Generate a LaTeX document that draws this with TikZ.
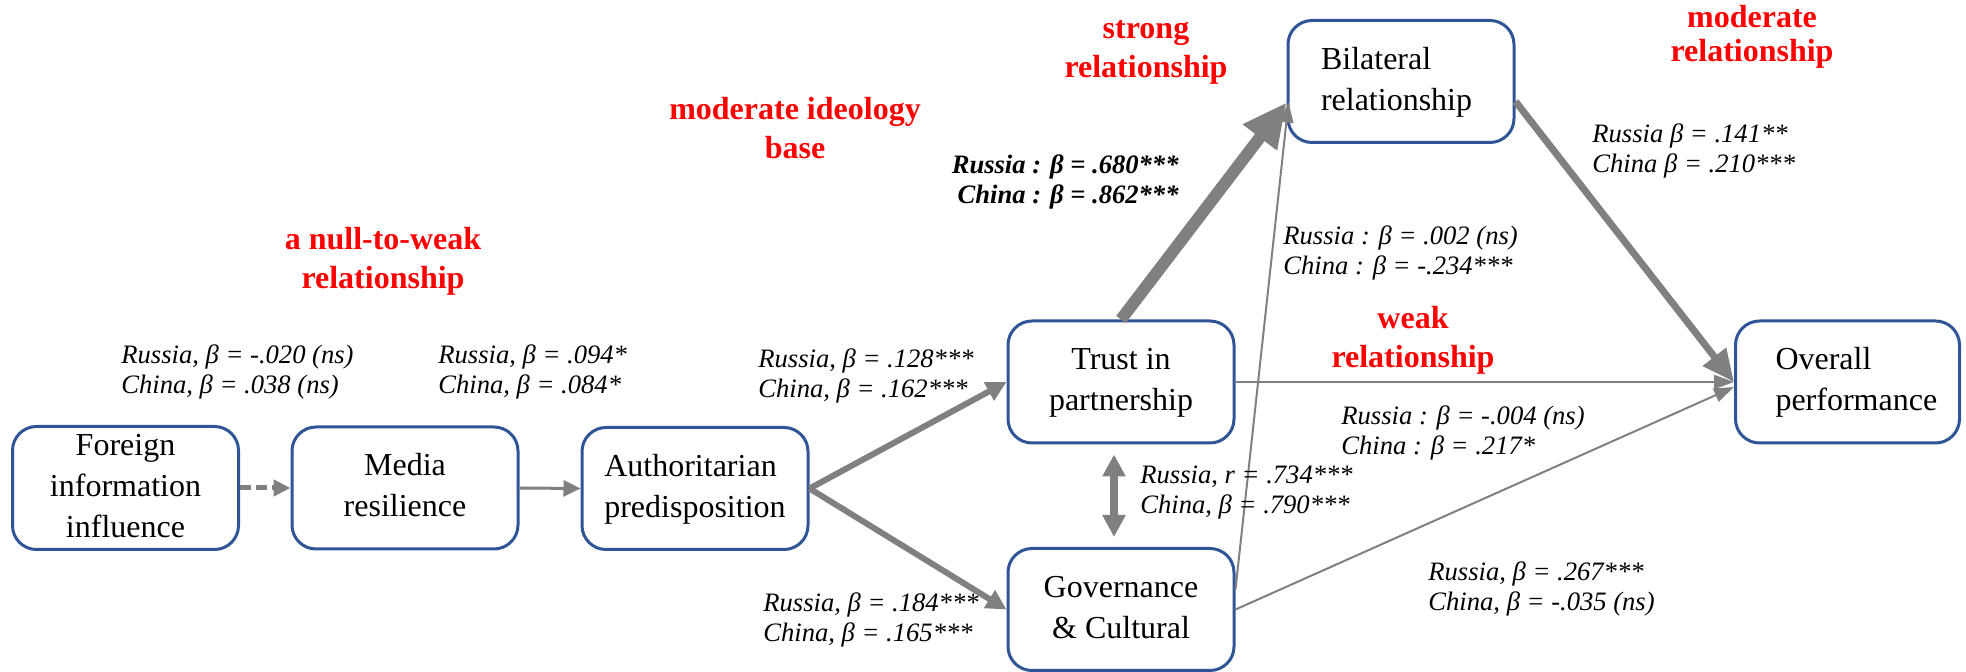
\documentclass[tikz,border=0pt]{standalone}
\usepackage{fontspec}
\setmainfont{Liberation Serif}[BoldFont={Liberation Serif Bold},ItalicFont={Liberation Serif Italic},BoldItalicFont={Liberation Serif Bold Italic}]
\usetikzlibrary{arrows.meta,calc}
\definecolor{boxblue}{HTML}{2F5597}
\definecolor{arrgray}{HTML}{808080}
\definecolor{redlab}{HTML}{FF0000}
\newcommand\boxtext[3]{\raisebox{#2}{\begin{tabular}{@{}#1@{}}#3\end{tabular}}}
\tikzset{
  box/.style={draw=boxblue, line width=1.5pt, rounded corners=12pt, fill=white,
    minimum width=113pt, minimum height=61pt, inner sep=0pt,
    font=\fontsize{16}{20.5}\selectfont},
  lab/.style={font=\fontsize{13.3}{15}\selectfont\itshape, inner sep=0pt, align=left, anchor=west},
  blab/.style={font=\fontsize{13.3}{15}\selectfont\bfseries\itshape, inner sep=0pt, align=right, anchor=east},
  redl/.style={font=\fontsize{16}{19.5}\selectfont\bfseries, text=redlab, align=center, inner sep=0pt},
  thinarr/.style={draw=arrgray, line width=1pt, -{Triangle[length=10pt,width=7pt]}},
  medarr/.style={draw=arrgray, line width=1.5pt, -{Triangle[length=8.5pt,width=8pt]}},
  dasharr/.style={draw=arrgray, line width=2.5pt, dash pattern=on 5.5pt off 2.5pt, -{Triangle[length=8.5pt,width=8pt]}},
  thickarr/.style={draw=arrgray, line width=3pt, -{Triangle[length=10pt,width=10pt]}},
  heavyarr/.style={draw=arrgray, line width=6pt, -{Triangle[length=22pt,width=20pt]}},
  bigarr/.style={draw=arrgray, line width=3.5pt, -{Triangle[length=16pt,width=14pt]}},
  dblarr/.style={draw=arrgray, line width=4pt, {Triangle[length=11pt,width=11pt]}-{Triangle[length=11pt,width=11pt]}},
}
\begin{document}
\begin{tikzpicture}[x=0.5pt,y=-0.5pt]
\useasboundingbox (0,0) rectangle (1966,672);
% boxes
\node[box] (fore) at (125.5,488) {\boxtext{c}{-4.5pt}{Foreign\\information\\influence}};
\node[box] (media) at (405,488) {\boxtext{c}{1pt}{Media\\resilience}};
\node[box] (auth) at (695,488.5) {\boxtext{l}{-3pt}{Authoritarian\\predisposition}};
\node[box] (trust) at (1121,382) {\boxtext{c}{-2.5pt}{Trust in\\partnership}};
\node[box] (gov) at (1121,609.5) {\boxtext{c}{-4.5pt}{Governance\\\& Cultural}};
\node[box, align=left, text width=80pt] (bil) at (1401,81.5) {\boxtext{l}{-2pt}{Bilateral\\relationship}};
\node[box, align=left, text width=72pt, minimum width=112pt] (over) at (1847.5,382) {\boxtext{l}{-1pt}{Overall\\performance}};
% connectors
\draw[dasharr] (fore.east) -- (media.west);
\draw[medarr] (media.east) -- (auth.west);
\draw[thickarr] (auth.east) -- (trust.west);
\draw[thickarr] (auth.east) -- (gov.west);
\draw[thinarr] ($(gov.east)+(0,-20)$) -- ($(bil.west)+(2,21)$);
\draw[heavyarr] (trust.north) -- ($(bil.west)+(0,21)$);
\draw[thinarr] (trust.east) -- (over.west);
\draw[thinarr] (gov.east) -- ($(over.west)+(0,5)$);
\draw[bigarr] ($(bil.east)+(0,20)$) -- (over.west);
\draw[dblarr] ($(trust.south)+(-7,10)$) -- ($(gov.north)+(-7,-10)$);
% red annotations
\node[redl] (r1) at (383,261) {a null-to-weak\\relationship};
\node[redl] (r2) at (795,128) {moderate ideology\\base};
\node[redl] (r3) at (1146,52) {strong\\relationship};
\node[redl, font=\fontsize{16}{17}\selectfont\bfseries] (r4) at (1752,37) {moderate\\relationship};
\node[redl] (r5) at (1413,340) {weak\\relationship};
% coefficient labels
\node[lab] (l1) at (121,372) {Russia, β = -.020 (ns)\\China, β = .038 (ns)};
\node[lab] (l2) at (438,372) {Russia, β = .094*\\China, β = .084*};
\node[lab] (l3) at (758,376) {Russia, β = .128***\\China, β = .162***};
\node[lab] (l4) at (763,620) {Russia, β = .184***\\China, β = .165***};
\node[blab] (l5) at (1179,182) {Russia : β = .680***\\China : β = .862***};
\node[lab] (l6) at (1283,253) {Russia : β = .002 (ns)\\China : β = -.234***};
\node[lab] (l7) at (1592,151) {Russia β = .141**\\China β = .210***};
\node[lab] (l8) at (1341,433) {Russia : β = -.004 (ns)\\China : β = .217*};
\node[lab] (l9) at (1140,493) {Russia, r = .734***\\China, β = .790***};
\node[lab] (l10) at (1428,589) {Russia, β = .267***\\China, β = -.035 (ns)};
\end{tikzpicture}
\end{document}
